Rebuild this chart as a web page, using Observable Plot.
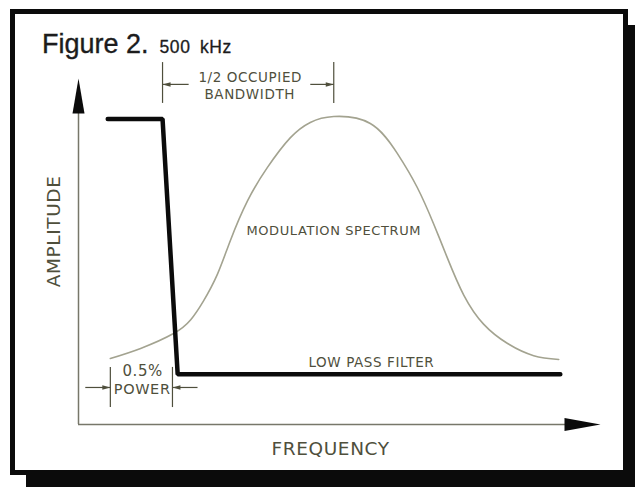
<!DOCTYPE html>
<html>
<head>
<meta charset="utf-8">
<script src="https://cdn.jsdelivr.net/npm/d3@7"></script>
<script src="https://cdn.jsdelivr.net/npm/@observablehq/plot@0.6"></script>
<style>
  html, body { margin: 0; padding: 0; background: #fff; overflow: hidden; }
  #wrap { position: relative; width: 635px; height: 487px; overflow: hidden; }
  #frame {
    position: absolute; left: 10px; top: 9px;
    width: 608px; height: 456px;
    border: 5px solid #0b0b0b; background: #fff;
    box-shadow: 16px 16px 0 0 #0b0b0b;
  }
  #title {
    position: absolute; left: 42px; top: 31px;
    font-family: "Liberation Sans", Arial, sans-serif; font-size: 27px; line-height: 27px;
    color: #1c1c1c; white-space: nowrap; -webkit-text-stroke: 0.35px #1c1c1c;
  }
  #chart { position: absolute; left: 0; top: 0; }
  #chart svg text { letter-spacing: 0.6px; }
</style>
</head>
<body>
<div id="wrap">
  <div id="frame"></div>
  <div id="title">Figure 2.</div>
  <div id="chart"></div>
</div>
<script>
// ---- data (frequency and amplitude in relative units, 0–100) ----
const spectrumFreq = [6.1, 11.9, 18.2, 21.5, 23.9, 26.6, 29.1, 32.4, 36.2, 40.6, 44.4, 48.9,
                      55.9, 61.1, 64.9, 68.0, 70.7, 73.8, 77.6, 82.2, 87.2, 92.0];
const spectrumAmp  = [19.1, 22.0, 26.3, 30.3, 35.6, 43.4, 53.2, 64.7, 74.3, 82.9, 87.3, 89.0,
                      87.0, 78.3, 68.5, 58.1, 48.0, 37.4, 29.0, 23.4, 19.9, 18.8];
const filterFreq = [5.6, 16.1, 19.0, 92.3];
const filterAmp  = [88.3, 88.3, 14.5, 14.5];

const axisLabels = ["AMPLITUDE", "FREQUENCY"];
const curveLabels = ["MODULATION SPECTRUM", "LOW PASS FILTER"];
const bandwidthLabel = ["1/2 OCCUPIED", "BANDWIDTH"];
const powerLabel = ["0.5%", "POWER"];
const cutoffLabel = "500\u2002kHz";

// ---- derived tables ----
const spectrum = spectrumFreq.map((f, i) => ({f, a: spectrumAmp[i]}));
const filter = filterFreq.map((f, i) => ({f, a: filterAmp[i]}));
const cutoff = filterFreq[1];
const peakIdx = spectrumAmp.indexOf(d3.max(spectrumAmp));
const center = spectrumFreq[peakIdx];
const powerLo = spectrumFreq[0];
const powerHi = spectrumFreq[2] - 0.2;

// filled arrowhead symbol: tip at origin, pointing (ux, uy)
function head(L, W, ux, uy) {
  return {
    draw(ctx) {
      const px = -uy, py = ux;
      ctx.moveTo(0, 0);
      ctx.lineTo(-L * ux + px * W / 2, -L * uy + py * W / 2);
      ctx.lineTo(-L * ux - px * W / 2, -L * uy - py * W / 2);
      ctx.closePath();
    }
  };
}

const ink = "#4f4f3c";
const axisInk = "#77776a";
const curveInk = "#a3a390";
const font = "DejaVu Sans, sans-serif";

const plot = Plot.plot({
  width: 635, height: 487,
  marginLeft: 78, marginRight: 35, marginTop: 78, marginBottom: 63,
  x: {domain: [0, 100], axis: null},
  y: {domain: [0, 100], axis: null},
  style: {background: "transparent", overflow: "visible"},
  marks: [
    // axes
    Plot.ruleX([0], {y1: 0, y2: 92, stroke: axisInk, strokeWidth: 1.5}),
    Plot.ruleY([0], {x1: 0, x2: 95, stroke: axisInk, strokeWidth: 1.5}),
    Plot.dot([{x: 0, y: 100}], {x: "x", y: "y", symbol: head(35, 12, 0, -1), fill: "#0b0b0b", stroke: "none"}),
    Plot.dot([{x: 100, y: 0}], {x: "x", y: "y", symbol: head(36, 13, 1, 0), fill: "#0b0b0b", stroke: "none"}),
    Plot.text([axisLabels[0]], {x: -4.6, y: 55.8, rotate: -90, fontSize: 18.5, fill: ink, fontFamily: font}),
    Plot.text([axisLabels[1]], {x: 48.3, y: -7, fontSize: 18.5, fill: ink, fontFamily: font}),

    // modulation spectrum
    Plot.line(spectrum, {x: "f", y: "a", curve: "natural", stroke: curveInk, strokeWidth: 1.6}),
    // low pass filter
    Plot.line(filter, {x: "f", y: "a", stroke: "#0b0b0b", strokeWidth: 4.5, strokeLinejoin: "miter"}),

    Plot.text([curveLabels[0]], {x: center, y: 56.1, fontSize: 13, fill: ink, fontFamily: font}),
    Plot.text([curveLabels[1]], {x: 56.1, y: 17.9, fontSize: 13.5, fill: ink, fontFamily: font}),

    // 1/2 occupied bandwidth dimension
    Plot.ruleX([cutoff, center], {y1: 92.8, y2: 104.6, stroke: ink, strokeWidth: 1.2}),
    Plot.link([{x1: cutoff, x2: 21.1}, {x1: 44.4, x2: center}], {x1: "x1", x2: "x2", y1: 98.3, y2: 98.3, stroke: ink, strokeWidth: 1.2}),
    Plot.dot([cutoff], {x: d => d, y: 98.3, symbol: head(8, 4.5, -1, 0), fill: ink, stroke: "none"}),
    Plot.dot([center], {x: d => d, y: 98.3, symbol: head(8, 4.5, 1, 0), fill: ink, stroke: "none"}),
    Plot.text([bandwidthLabel[0]], {x: 32.9, y: 100.3, fontSize: 13.5, fill: ink, fontFamily: font}),
    Plot.text([bandwidthLabel[1]], {x: 32.8, y: 95.4, fontSize: 13.5, fill: ink, fontFamily: font}),
    Plot.text([cutoffLabel], {x: cutoff, y: 107.5, dx: -3, textAnchor: "start", lineAnchor: "bottom",
      fontSize: 17.5, fill: "#1c1c1c", stroke: "#1c1c1c", strokeWidth: 0.3,
      fontFamily: "Liberation Sans, Arial, sans-serif"}),

    // 0.5% power dimension
    Plot.ruleX([powerLo, powerHi], {y1: 4.9, y2: 16.5, stroke: ink, strokeWidth: 1.2}),
    Plot.link([{x1: 1.3, x2: powerLo}, {x1: powerHi, x2: 22.8}], {x1: "x1", x2: "x2", y1: 10.7, y2: 10.7, stroke: ink, strokeWidth: 1.2}),
    Plot.dot([powerLo], {x: d => d, y: 10.7, symbol: head(8, 4.5, 1, 0), fill: ink, stroke: "none"}),
    Plot.dot([powerHi], {x: d => d, y: 10.7, symbol: head(8, 4.5, -1, 0), fill: ink, stroke: "none"}),
    Plot.text([powerLabel[0]], {x: 12.3, y: 15.5, fontSize: 15, fill: ink, fontFamily: font}),
    Plot.text([powerLabel[1]], {x: 12.2, y: 10.1, fontSize: 14.5, fill: ink, fontFamily: font})
  ]
});
document.getElementById("chart").appendChild(plot);
</script>
</body>
</html>
